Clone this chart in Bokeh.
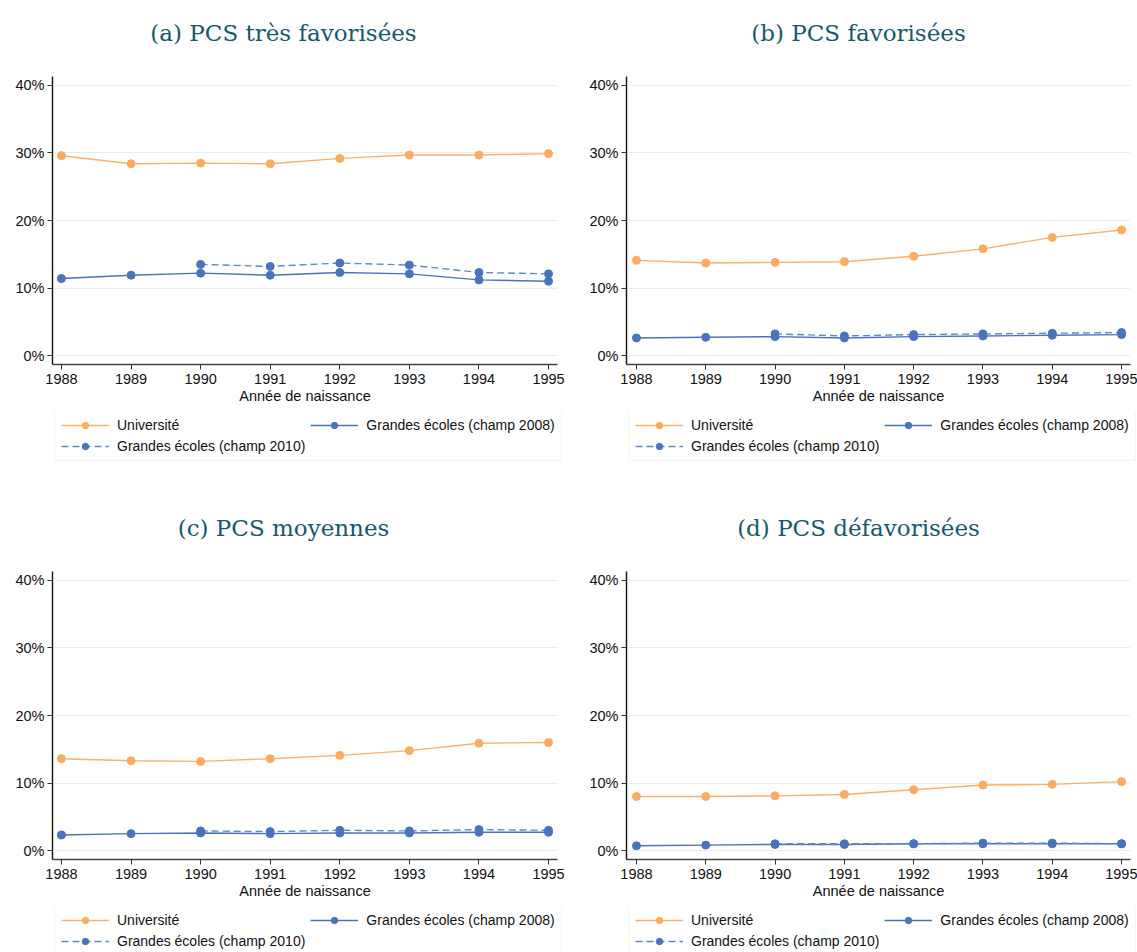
from bokeh.plotting import figure
from bokeh.models import Range1d, FixedTicker, PrintfTickFormatter, Legend, LegendItem, Label
from bokeh.layouts import column, row
from bokeh.embed import file_html
from bokeh.resources import INLINE

# ---------------- data ----------------
years = [1988, 1989, 1990, 1991, 1992, 1993, 1994, 1995]
years_2010 = [1990, 1991, 1992, 1993, 1994, 1995]
y_ticks = [0, 10, 20, 30, 40]

titles = ["(a) PCS très favorisées", "(b) PCS favorisées",
          "(c) PCS moyennes", "(d) PCS défavorisées"]
series_names = ["Université", "Grandes écoles (champ 2008)", "Grandes écoles (champ 2010)"]
x_label = "Année de naissance"

univ_a = [29.6, 28.4, 28.5, 28.4, 29.2, 29.7, 29.7, 29.9]
ge08_a = [11.4, 11.9, 12.2, 11.9, 12.3, 12.1, 11.2, 11.0]
ge10_a = [13.5, 13.2, 13.7, 13.4, 12.3, 12.1]

univ_b = [14.1, 13.7, 13.8, 13.9, 14.7, 15.8, 17.5, 18.6]
ge08_b = [2.6, 2.7, 2.8, 2.6, 2.8, 2.9, 3.0, 3.1]
ge10_b = [3.2, 2.9, 3.1, 3.2, 3.3, 3.4]

univ_c = [13.6, 13.3, 13.2, 13.6, 14.1, 14.8, 15.9, 16.0]
ge08_c = [2.3, 2.5, 2.6, 2.5, 2.6, 2.6, 2.7, 2.7]
ge10_c = [2.9, 2.8, 3.0, 2.9, 3.1, 3.0]

univ_d = [8.0, 8.0, 8.1, 8.3, 9.0, 9.7, 9.8, 10.2]
ge08_d = [0.7, 0.8, 0.9, 0.9, 1.0, 1.0, 1.0, 1.0]
ge10_d = [1.0, 1.0, 1.0, 1.1, 1.1, 1.0]

# ---------------- style ----------------
ORANGE = "#fcab61"
ORANGE_LINE = "#fbb06b"
BLUE = "#4a73bd"
BLUE_DASH = "#5f87cc"
TEAL = "#15596a"
SANS = "Liberation Sans"
SERIF = "DejaVu Serif"
DASH = "7 4"
FS = "14.5px"
FS_LEG = "14px"


def blank_fig(width, height):
    f = figure(width=width, height=height, output_backend="svg", toolbar_location=None,
               x_range=Range1d(0, 1), y_range=Range1d(0, 1),
               x_axis_type=None, y_axis_type=None, frame_align=False,
               min_border_left=0, min_border_right=0, min_border_top=0, min_border_bottom=0)
    f.outline_line_color = None
    f.background_fill_color = "white"
    f.border_fill_color = "white"
    return f


def title_fig(text, width):
    f = blank_fig(width, 76)
    f.add_layout(Label(x=283, y=44, x_units="screen", y_units="screen", text=text,
                       text_font=SERIF, text_font_size="23px", text_color=TEAL,
                       text_align="center", text_baseline="middle"))
    return f


def legend_fig(width, height, x_left, univ, ge08, ge10):
    # the series are drawn here only to provide legend keys; the ranges keep them out of view
    f = blank_fig(width, height)
    l_u = f.line(years, univ, line_color=ORANGE_LINE, line_width=1.4)
    s_u = f.scatter(years, univ, size=8, fill_color=ORANGE, line_color=ORANGE)
    l_08 = f.line(years, ge08, line_color=BLUE, line_width=1.4)
    s_08 = f.scatter(years, ge08, size=8, fill_color=BLUE, line_color=BLUE)
    l_10 = f.line(years_2010, ge10, line_color=BLUE_DASH, line_width=1.4, line_dash=DASH)
    s_10 = f.scatter(years_2010, ge10, size=8, fill_color=BLUE, line_color=BLUE)
    legend = Legend(items=[
        LegendItem(label=series_names[0], renderers=[l_u, s_u]),
        LegendItem(label=series_names[1], renderers=[l_08, s_08]),
        LegendItem(label=series_names[2], renderers=[l_10, s_10]),
    ], location=(x_left, height - 49), orientation="horizontal", nrows=2)
    legend.glyph_width = 48
    legend.glyph_height = 16
    legend.label_height = 16
    legend.label_standoff = 8
    legend.spacing = 5
    legend.padding = 6
    legend.margin = 0
    legend.label_text_font = SANS
    legend.label_text_font_size = FS_LEG
    legend.label_text_color = "#111111"
    legend.border_line_color = "#e3ebee"
    legend.border_line_width = 1
    legend.background_fill_color = "white"
    legend.background_fill_alpha = 1
    f.add_layout(legend, "center")
    return f


def plot_fig(univ, ge08, ge10, width, b_left, b_right, x_start, x_end):
    p = figure(width=width, height=336, output_backend="svg", toolbar_location=None,
               x_range=Range1d(x_start, x_end), y_range=Range1d(-1.33, 41.33),
               min_border_left=b_left, min_border_right=b_right,
               min_border_top=0, min_border_bottom=48)
    p.outline_line_color = None
    p.background_fill_color = "white"
    p.border_fill_color = "white"

    p.xaxis.ticker = FixedTicker(ticks=years)
    p.yaxis.ticker = FixedTicker(ticks=y_ticks)
    p.yaxis.formatter = PrintfTickFormatter(format="%d%%")
    for ax in (p.xaxis[0], p.yaxis[0]):
        ax.major_tick_in = 0
        ax.major_tick_out = 5
        ax.minor_tick_line_color = None
        ax.major_label_text_font = SANS
        ax.major_label_text_font_size = FS
        ax.major_label_text_color = "#111111"
        ax.major_tick_line_color = "#333333"
        ax.axis_line_width = 1.4
    p.xaxis.axis_line_color = "#444444"
    p.yaxis.axis_line_color = "#111111"
    p.xaxis.major_label_standoff = 4
    p.yaxis.major_label_standoff = 3
    p.xaxis.axis_label = x_label
    p.xaxis.axis_label_text_font = SANS
    p.xaxis.axis_label_text_font_size = FS
    p.xaxis.axis_label_text_font_style = "normal"
    p.xaxis.axis_label_text_color = "#111111"
    p.xaxis.axis_label_standoff = 1

    p.xgrid.grid_line_color = None
    p.ygrid.ticker = FixedTicker(ticks=y_ticks)
    p.ygrid.grid_line_color = "#e6eef0"
    p.ygrid.grid_line_width = 1

    p.line(years, univ, line_color=ORANGE_LINE, line_width=1.4)
    p.scatter(years, univ, size=8, fill_color=ORANGE, line_color=ORANGE)
    p.line(years, ge08, line_color=BLUE, line_width=1.4)
    p.scatter(years, ge08, size=8, fill_color=BLUE, line_color=BLUE)
    p.line(years_2010, ge10, line_color=BLUE_DASH, line_width=1.4, line_dash=DASH)
    p.scatter(years_2010, ge10, size=8, fill_color=BLUE, line_color=BLUE)
    return p


def panel(idx, univ, ge08, ge10, top):
    left_side = idx % 2 == 0
    width = 575 if left_side else 562
    b_left = 52 if left_side else 51
    b_right = 18 if left_side else 7
    x_start = 1987.871 if left_side else 1987.856
    x_end = 1995.129
    leg_h = 83 if top else 45
    return column(title_fig(titles[idx], width),
                  plot_fig(univ, ge08, ge10, width, b_left, b_right, x_start, x_end),
                  legend_fig(width, leg_h, b_left + 2, univ, ge08, ge10),
                  spacing=0)


layout = column(
    row(panel(0, univ_a, ge08_a, ge10_a, True), panel(1, univ_b, ge08_b, ge10_b, True), spacing=0),
    row(panel(2, univ_c, ge08_c, ge10_c, False), panel(3, univ_d, ge08_d, ge10_d, False), spacing=0),
    spacing=0)
open("out.html", "w").write(file_html(layout, INLINE))
